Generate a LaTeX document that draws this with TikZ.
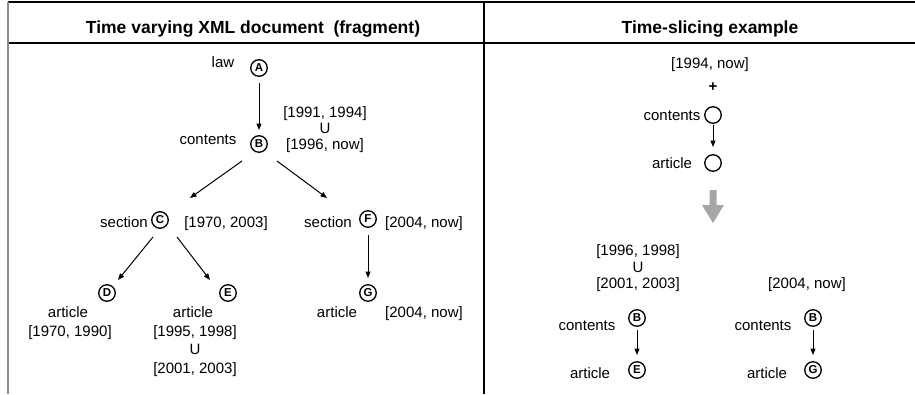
\documentclass[tikz,border=0pt]{standalone}
\usepackage{fontspec}
\setmainfont{Liberation Sans}
\usetikzlibrary{arrows.meta}
\begin{document}
\begin{tikzpicture}[x=1pt,y=-1pt,
  lbl/.style={inner sep=0pt, text height=10.7pt, text depth=0pt, font=\fontsize{15}{18}\selectfont},
  ttl/.style={inner sep=0pt, text height=12.5pt, text depth=0pt, font=\fontsize{17.5}{20}\selectfont\bfseries},
  vnode/.style={circle, draw, line width=1.3pt, minimum size=16.5pt, inner sep=0pt, font=\fontsize{11.5}{11.5}\selectfont\bfseries},
  arr/.style={line width=1pt, -{Triangle[length=6.5pt,width=5pt]}},
  frameline/.style={line width=1.3pt}]
\useasboundingbox (0,0) rectangle (915,394);

% table frame
\draw[frameline] (8,2) -- (915,2);
\draw[frameline] (8,43) -- (915,43);
\draw[frameline] (484,2) -- (484,394);
\draw[line width=2pt, black!45] (8,2) -- (8,394);

% headers
\node[ttl] (h1) at (253,27) {Time varying XML document\ \ (fragment)};
\node[ttl] (h2) at (710,27) {Time-slicing example};

% ---- time varying document ----
\node[vnode] (A) at (259,68) {A};
\node[lbl] (lA) at (223,62) {law};
\node[vnode] (B) at (259,144) {B};
\node[lbl] (lB) at (208,139) {contents};
\node[lbl] (tB1) at (325,112) {[1991, 1994]};
\node[lbl] (tB2) at (325,128) {U};
\node[lbl] (tB3) at (325,144) {[1996, now]};

\node[vnode] (C) at (160,220) {C};
\node[lbl] (lC) at (124,222) {section};
\node[lbl] (tC) at (226,222) {[1970, 2003]};

\node[vnode] (F) at (368,219) {F};
\node[lbl] (lF) at (328,222) {section};
\node[lbl] (tF) at (424,222) {[2004, now]};

\node[vnode] (D) at (107,293) {D};
\node[lbl] (lD) at (68,312) {article};
\node[lbl] (tD) at (70,331) {[1970, 1990]};

\node[vnode] (E) at (228,293) {E};
\node[lbl] (lE) at (193,312) {article};
\node[lbl] (tE1) at (195,331) {[1995, 1998]};
\node[lbl] (tE2) at (195,349) {U};
\node[lbl] (tE3) at (195,368) {[2001, 2003]};

\node[vnode] (G) at (368,293) {G};
\node[lbl] (lG) at (337,312) {article};
\node[lbl] (tG) at (424,312) {[2004, now]};

\draw[arr] ([shift={(0,15)}]A.center) -- ([shift={(0,-14)}]B.center);
\draw[arr] ([shift={(-17,17)}]B.center) -- ([shift={(30,-22)}]C.center);
\draw[arr] ([shift={(18,17)}]B.center) -- ([shift={(-41,-21)}]F.center);
\draw[arr] ([shift={(-7,17)}]C.center) -- ([shift={(11,-13)}]D.center);
\draw[arr] ([shift={(17,17)}]C.center) -- ([shift={(-18,-13)}]E.center);
\draw[arr] ([shift={(0,16)}]F.center) -- ([shift={(0,-15)}]G.center);

% ---- time-slicing example ----
\node[lbl] (q) at (710,63) {[1994, now]};
\node[lbl, font=\fontsize{15}{18}\selectfont\bfseries] (plus) at (713,86) {+};
\node[vnode] (P) at (713,115) {};
\node[lbl] (lP) at (672,115) {contents};
\node[vnode] (Q) at (713,163) {};
\node[lbl] (lQ) at (672,163) {article};
\draw[arr] ([shift={(0,10)}]P.center) -- ([shift={(0,-16)}]Q.center);

% result arrow
\fill[black!35] (709.5,190) -- (716.5,190) -- (716.5,205) -- (724,205) -- (713,223)
  -- (702,205) -- (709.5,205) -- cycle;

\node[lbl] (r1) at (638,250) {[1996, 1998]};
\node[lbl] (r2) at (638,267) {U};
\node[lbl] (r3) at (638,283) {[2001, 2003]};
\node[lbl] (s1) at (807,283) {[2004, now]};

\node[vnode] (B1) at (637,318) {B};
\node[lbl] (lB1) at (587,325) {contents};
\node[vnode] (E1) at (637,370) {E};
\node[lbl] (lE1) at (590,373) {article};
\draw[arr] ([shift={(0,12)}]B1.center) -- ([shift={(0,-15)}]E1.center);

\node[vnode] (B2) at (813,318) {B};
\node[lbl] (lB2) at (763,325) {contents};
\node[vnode] (G2) at (813,370) {G};
\node[lbl] (lG2) at (767,373) {article};
\draw[arr] ([shift={(0,12)}]B2.center) -- ([shift={(0,-15)}]G2.center);
\end{tikzpicture}
\end{document}
